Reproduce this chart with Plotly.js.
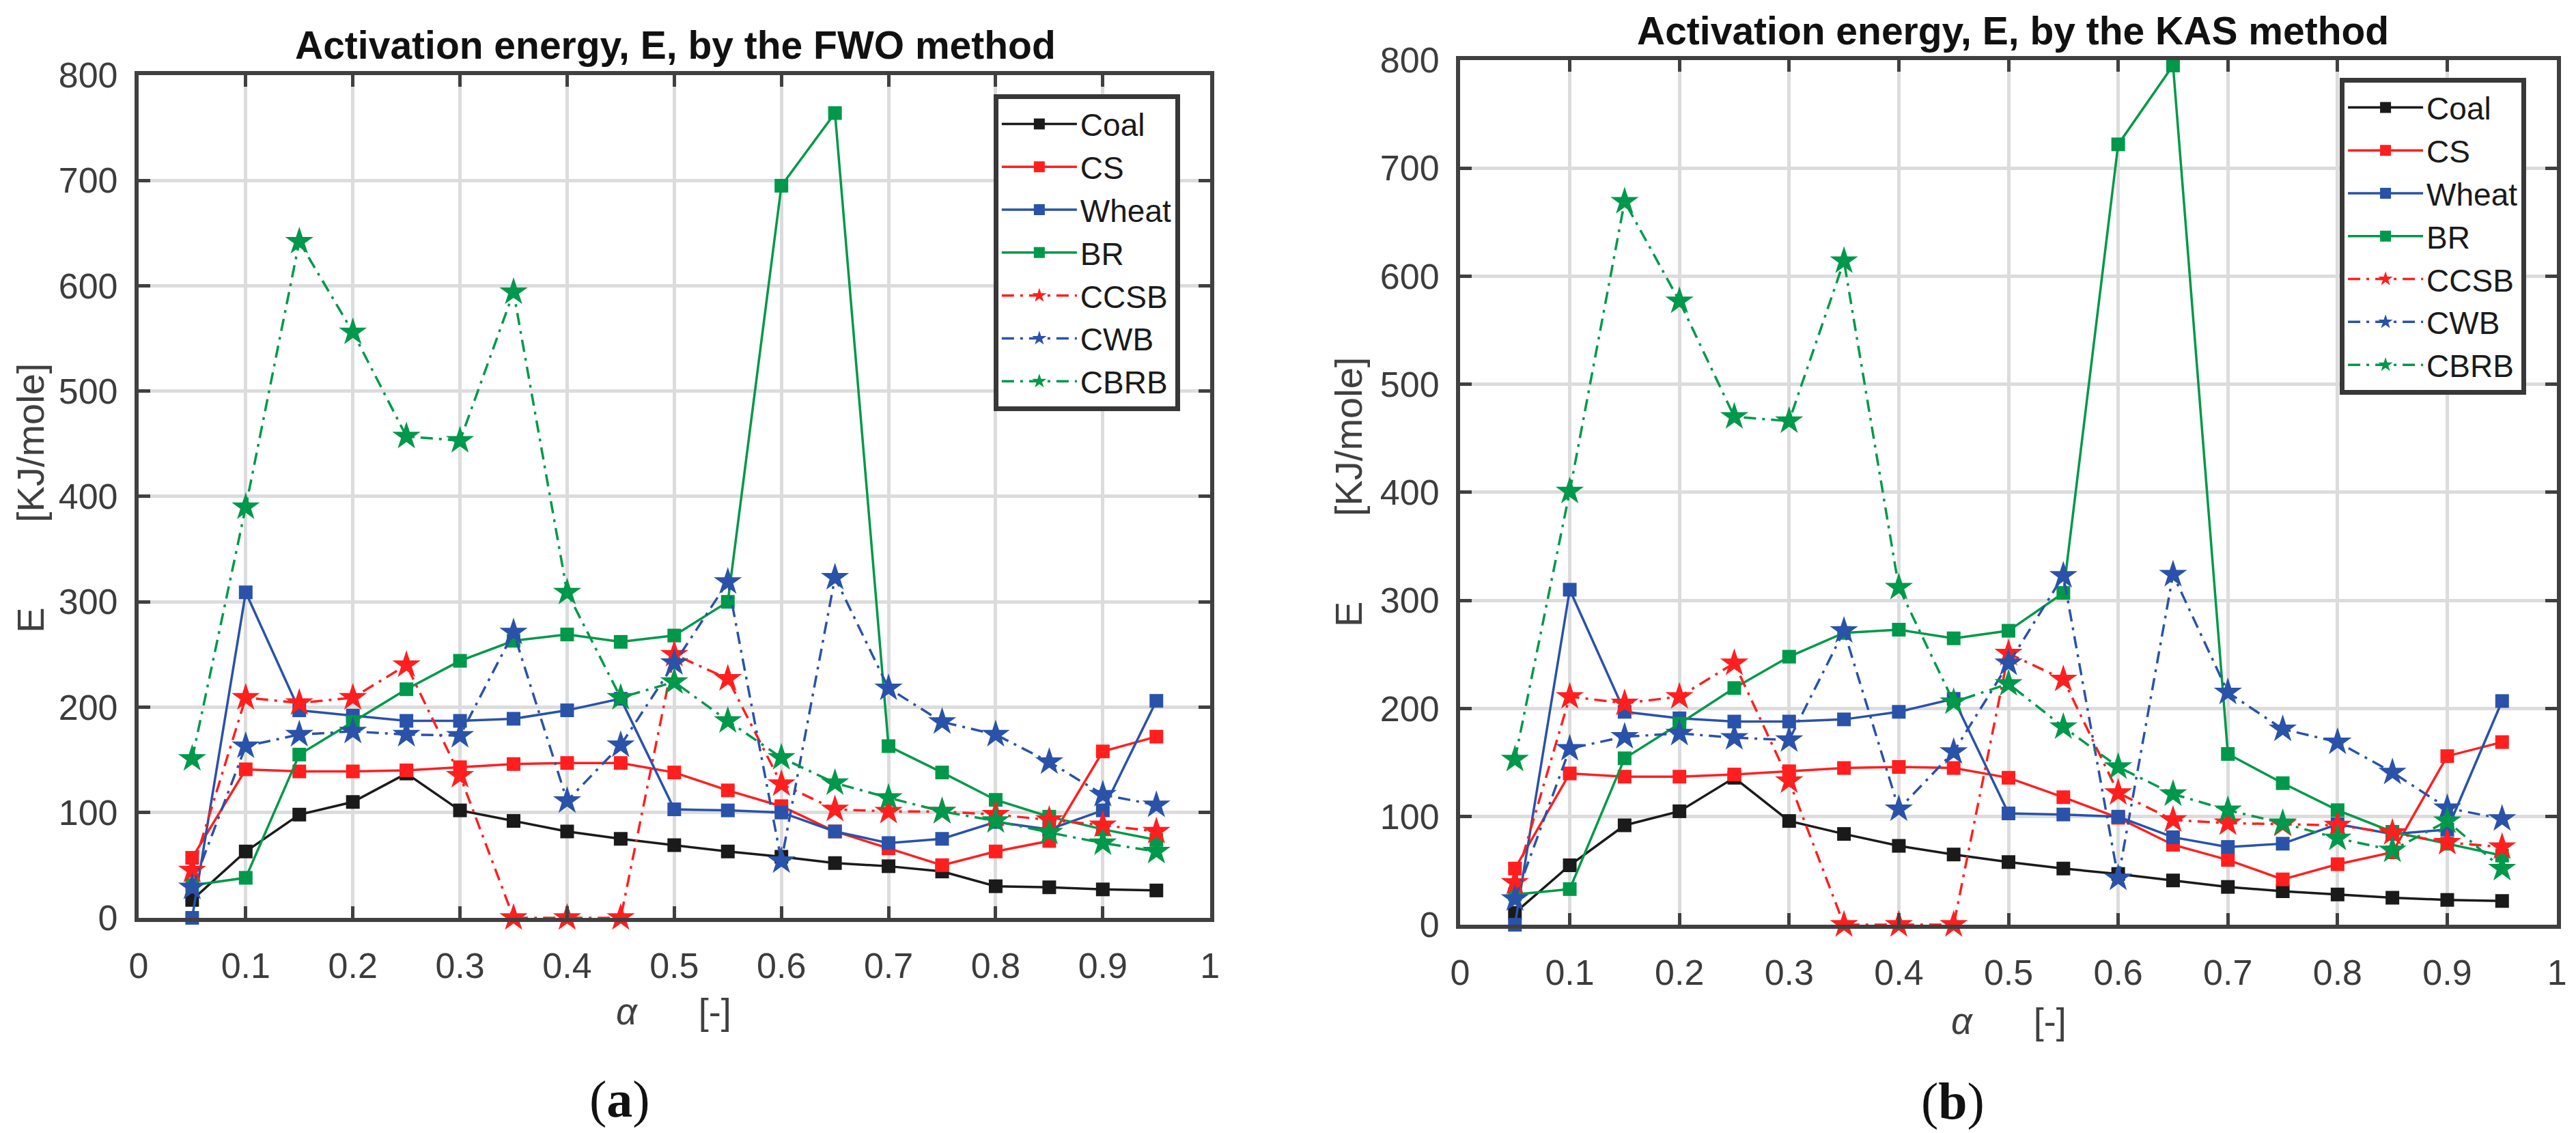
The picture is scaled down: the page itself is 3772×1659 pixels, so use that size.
<!DOCTYPE html>
<html>
<head>
<meta charset="utf-8">
<script src="https://cdn.plot.ly/plotly-3.0.1.min.js"></script>
<style>
  html, body { margin: 0; padding: 0; background: #fff; }
  #chart { width: 3772px; height: 1659px; }
</style>
</head>
<body>
<div id="chart"></div>
<script>
// conversion degree, shared by both panels
var alpha = [0.05, 0.1, 0.15, 0.2, 0.25, 0.3, 0.35, 0.4, 0.45, 0.5,
             0.55, 0.6, 0.65, 0.7, 0.75, 0.8, 0.85, 0.9, 0.95];
var names = ['Coal', 'CS', 'Wheat', 'BR', 'CCSB', 'CWB', 'CBRB'];

// (a) FWO method, E in kJ/mole
var coalFWO  = [17, 63, 98, 110, 137, 102, 92, 82, 75, 69, 63, 58, 52, 49, 44, 30, 29, 27, 26];
var csFWO    = [57, 141, 139, 139, 140, 143, 146, 147, 147, 138, 121, 106, 82, 66, 50, 63, 73, 158, 172];
var wheatFWO = [0, 309, 197, 192, 187, 187, 189, 197, 208, 103, 102, 100, 82, 71, 75, 91, 84, 102, 206];
var brFWO    = [31, 38, 155, 186, 217, 244, 263, 269, 262, 268, 300, 695, 764, 163, 138, 112, 96, 84, 74];
var ccsbFWO  = [45, 209, 204, 209, 240, 135, 0, 0, 0, 250, 227, 127, 103, 101, 101, 98, 93, 88, 82];
var cwbFWO   = [29, 163, 174, 177, 174, 173, 271, 111, 164, 242, 319, 54, 323, 218, 186, 174, 148, 117, 107];
var cbrbFWO  = [151, 390, 642, 556, 457, 453, 594, 309, 209, 224, 187, 152, 128, 114, 101, 92, 81, 71, 63];

// (b) KAS method
var coalKAS  = [11, 55, 92, 105, 136, 96, 84, 73, 65, 58, 52, 47, 41, 35, 31, 28, 25, 23, 22];
var csKAS    = [52, 140, 137, 137, 139, 142, 145, 146, 145, 136, 118, 99, 74, 60, 42, 56, 67, 156, 169];
var wheatKAS = [0, 310, 197, 191, 188, 188, 190, 197, 209, 103, 102, 100, 81, 72, 75, 93, 84, 88, 207];
var brKAS    = [28, 33, 154, 186, 219, 248, 270, 273, 265, 272, 307, 722, 795, 158, 131, 106, 86, 75, 64];
var ccsbKAS  = [39, 211, 205, 211, 242, 133, 0, 0, 0, 251, 227, 122, 97, 94, 93, 92, 85, 76, 72];
var cwbKAS   = [24, 163, 174, 177, 173, 171, 272, 107, 160, 242, 323, 43, 324, 215, 181, 169, 141, 108, 98];
var cbrbKAS  = [153, 401, 669, 577, 470, 466, 614, 312, 206, 223, 183, 146, 121, 106, 94, 80, 69, 96, 52];

var colors = ['#1a1a1a', '#ff1f1f', '#2a52a8', '#00984a', '#ff1f1f', '#2a52a8', '#00984a'];
var dashDot = '18px,9px,4px,9px';

function series(i, y, xa, ya, leg) {
    var starred = i >= 4;
    return {
        x: alpha,
        y: y,
        xaxis: xa,
        yaxis: ya,
        legend: leg,
        name: names[i],
        mode: 'lines+markers',
        type: 'scatter',
        cliponaxis: false,
        line: {color: colors[i], width: 3.5, dash: starred ? dashDot : 'solid'},
        marker: {color: colors[i], symbol: starred ? 'star' : 'square',
                 size: starred ? 31 : 20, line: {width: 0}}
    };
}

var fwo = [coalFWO, csFWO, wheatFWO, brFWO, ccsbFWO, cwbFWO, cbrbFWO];
var kas = [coalKAS, csKAS, wheatKAS, brKAS, ccsbKAS, cwbKAS, cbrbKAS];
var data = [];
fwo.forEach(function (y, i) { data.push(series(i, y, 'x', 'y', 'legend')); });
kas.forEach(function (y, i) { data.push(series(i, y, 'x2', 'y2', 'legend2')); });

var tickFont = {family: 'Liberation Sans, Arial, sans-serif', size: 52, color: '#3c3c3c'};

function xAxis(domain, anchor) {
    return {
        domain: domain, anchor: anchor, range: [0, 1], dtick: 0.1,
        showline: true, linecolor: '#404040', linewidth: 6, mirror: 'ticks',
        ticks: 'inside', ticklen: 17, tickwidth: 5, tickcolor: '#404040',
        showgrid: true, gridcolor: '#dcdcdc', gridwidth: 5, zeroline: false,
        tickfont: tickFont, ticklabelstandoff: 20
    };
}
function yAxis(domain, anchor) {
    return {
        domain: domain, anchor: anchor, range: [0, 800], dtick: 100,
        showline: true, linecolor: '#404040', linewidth: 6, mirror: 'ticks',
        ticks: 'inside', ticklen: 17, tickwidth: 5, tickcolor: '#404040',
        showgrid: true, gridcolor: '#dcdcdc', gridwidth: 5, zeroline: false,
        tickfont: tickFont, ticklabelstandoff: 14
    };
}

function legendBox(x, y) {
    return {
        x: x, y: y, xanchor: 'left', yanchor: 'top',
        bgcolor: '#ffffff', bordercolor: '#383838', borderwidth: 7,
        font: {family: 'Liberation Sans, Arial, sans-serif', size: 46, color: '#1a1a1a'},
        itemwidth: 110, itemsizing: 'trace', tracegroupgap: 0
    };
}

var nb = '\u00a0';
function gap(n) { return new Array(n + 1).join(nb); }

function note(text, x, y, size, opts) {
    var a = {
        text: text, x: x, y: y, xref: 'paper', yref: 'paper',
        xanchor: 'center', yanchor: 'middle', showarrow: false,
        font: {family: 'Liberation Sans, Arial, sans-serif', size: size, color: '#404040'}
    };
    for (var k in opts) { a[k] = opts[k]; }
    return a;
}

var titleFont = {family: 'Liberation Sans, Arial, sans-serif', size: 57, color: '#111111'};
var serif = {family: 'Liberation Serif, Times New Roman, serif', size: 76, color: '#111111'};
var xTitle = '<i>α</i>' + gap(6) + '[-]';
var yTitle = 'E' + gap(8) + '[KJ/mole]';

var layout = {
    width: 3772,
    height: 1659,
    margin: {l: 0, r: 0, t: 0, b: 0},
    paper_bgcolor: '#ffffff',
    plot_bgcolor: '#ffffff',
    showlegend: true,
    xaxis: xAxis([0.0538, 0.4697], 'y'),
    yaxis: yAxis([0.1899, 0.9337], 'x'),
    xaxis2: xAxis([0.5668, 0.9926], 'y2'),
    yaxis2: yAxis([0.1838, 0.9470], 'x2'),
    legend: legendBox(0.3857, 0.9168),
    legend2: legendBox(0.9083, 0.9313),
    annotations: [
        note('<b>Activation energy, E, by the FWO method</b>', 0.2622, 0.9602, 57, {font: titleFont}),
        note('<b>Activation energy, E, by the KAS method</b>', 0.7813, 0.9729, 57, {font: titleFont}),
        note(yTitle, 0.0119, 0.5606, 56, {textangle: -90}),
        note(yTitle, 0.5233, 0.5660, 56, {textangle: -90}),
        note(xTitle, 0.2614, 0.1073, 54),
        note(xTitle, 0.7797, 0.0989, 54),
        note('(<b>a</b>)', 0.2405, 0.0301, 76, {font: serif}),
        note('(<b>b</b>)', 0.7582, 0.0283, 76, {font: serif})
    ]
};

Plotly.newPlot('chart', data, layout, {responsive: false, displayModeBar: false, staticPlot: true});
</script>
</body>
</html>
